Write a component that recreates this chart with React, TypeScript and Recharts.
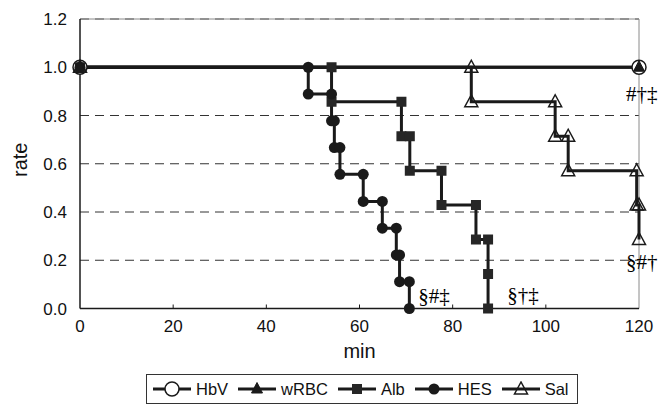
import React from 'react';
import {
  LineChart,
  Line,
  XAxis,
  YAxis,
  CartesianGrid,
  ReferenceLine,
  ReferenceDot,
  Legend,
} from 'recharts';

// ---- data ----
const hbvTime = [0, 120];
const hbvRate = [1, 1];

const wrbcTime = [0, 120];
const wrbcRate = [1, 1];

const albTime = [0, 54, 54, 69, 69, 70.8, 70.8, 77.6, 77.6, 85, 85, 87.6, 87.6, 87.6];
const albRate = [1, 1, 0.857, 0.857, 0.714, 0.714, 0.571, 0.571, 0.429, 0.429, 0.286, 0.286, 0.143, 0];

const hesTime = [0, 49, 49, 54, 54, 54.6, 54.6, 55.8, 55.8, 60.8, 60.8, 64.9, 64.9, 67.9, 67.9, 68.6, 68.6, 70.7, 70.7];
const hesRate = [1, 1, 0.889, 0.889, 0.778, 0.778, 0.667, 0.667, 0.556, 0.556, 0.444, 0.444, 0.333, 0.333, 0.222, 0.222, 0.111, 0.111, 0];

const salTime = [0, 84, 84, 102, 102, 104.8, 104.8, 119.5, 119.5, 120, 120];
const salRate = [1, 1, 0.857, 0.857, 0.714, 0.714, 0.571, 0.571, 0.429, 0.429, 0.286];

const seriesNames = ['HbV', 'wRBC', 'Alb', 'HES', 'Sal'];
const markerKinds = ['openCircle', 'filledTriangle', 'square', 'filledCircle', 'openTriangle'];

const xTicks = [0, 20, 40, 60, 80, 100, 120];
const yTicks = [0, 0.2, 0.4, 0.6, 0.8, 1.0, 1.2];

const noteTexts = ['#†‡', '§#†', '§#‡', '§†‡'];
const noteTimes = [117.2, 117.2, 72.6, 91.7];
const noteRates = [0.889, 0.193, 0.052, 0.056];

const toPoints = (ts: number[], rs: number[]) => ts.map((t, i) => ({ t, r: rs[i] }));

const seriesData = [
  toPoints(hbvTime, hbvRate),
  toPoints(wrbcTime, wrbcRate),
  toPoints(albTime, albRate),
  toPoints(hesTime, hesRate),
  toPoints(salTime, salRate),
];

// ---- styles ----
const INK = '#1a1a1a';
const SANS = '"Liberation Sans", Arial, sans-serif';
const SERIF = '"Liberation Serif", "Times New Roman", serif';

function markerShape(kind: string, cx: number, cy: number, key?: any) {
  switch (kind) {
    case 'openCircle':
      return <circle key={key} cx={cx} cy={cy} r={7} fill="#fff" stroke={INK} strokeWidth={1.5} />;
    case 'filledTriangle':
      return (
        <polygon
          key={key}
          points={`${cx},${cy - 6.5} ${cx - 5.5},${cy + 4} ${cx + 5.5},${cy + 4}`}
          fill={INK}
          stroke={INK}
          strokeWidth={1}
        />
      );
    case 'square':
      return <rect key={key} x={cx - 5} y={cy - 5} width={10} height={10} fill="#262626" />;
    case 'filledCircle':
      return <circle key={key} cx={cx} cy={cy} r={5.5} fill={INK} />;
    case 'openTriangle':
      return (
        <polygon
          key={key}
          points={`${cx},${cy - 7} ${cx - 6.5},${cy + 5} ${cx + 6.5},${cy + 5}`}
          fill="none"
          stroke={INK}
          strokeWidth={1.5}
        />
      );
    default:
      return null;
  }
}

const renderLegend = () => (
  <div
    style={{
      display: 'flex',
      alignItems: 'center',
      border: '1px solid #333',
      height: 30,
      boxSizing: 'border-box',
      padding: '0 4px 0 6px',
      fontFamily: SANS,
      fontSize: 16.5,
      color: '#111',
      background: '#fff',
      whiteSpace: 'nowrap',
    }}
  >
    {seriesNames.map((name, i) => (
      <div key={name} style={{ display: 'flex', alignItems: 'center', marginRight: i < seriesNames.length - 1 ? 10 : 4 }}>
        <svg width={38} height={16} style={{ display: 'block' }}>
          <line x1={0} y1={8} x2={38} y2={8} stroke={INK} strokeWidth={3} />
          {markerShape(markerKinds[i], 19, 8)}
        </svg>
        <span style={{ marginLeft: 5 }}>{name}</span>
      </div>
    ))}
  </div>
);

const XTick = (props: any) => {
  const { x, y, payload } = props;
  const axisY = y - 11;
  return (
    <g>
      {payload.value !== 0 && payload.value !== 120 ? (
        <line x1={x} y1={axisY} x2={x} y2={axisY - 4} stroke={INK} strokeWidth={1} />
      ) : null}
      <text x={x} y={y} dy="0.71em" textAnchor="middle" fontFamily={SANS} fontSize={17} fill="#111">
        {payload.value}
      </text>
    </g>
  );
};

const YLabel = (props: any) => {
  const vb = props.viewBox || { x: 0, y: 19, width: 80, height: 289.5 };
  const cx = vb.x + 27;
  const cy = vb.y + vb.height / 2 - 4;
  return (
    <text x={cx} y={cy} textAnchor="middle" fontFamily={SANS} fontSize={20} fill="#111" transform={`rotate(-90, ${cx}, ${cy})`}>
      rate
    </text>
  );
};

const XLabel = (props: any) => {
  const vb = props.viewBox || { x: 80, y: 308.5, width: 559, height: 30 };
  return (
    <text x={vb.x + vb.width / 2} y={vb.y + 49.5} textAnchor="middle" fontFamily={SANS} fontSize={20} fill="#111">
      min
    </text>
  );
};

export default function App() {
  return (
    <div style={{ position: 'absolute', left: 0, top: 0, background: '#fff' }}>
      <LineChart width={659} height={407} margin={{ top: 19, right: 20, left: 0, bottom: 68.5 }}>
        <CartesianGrid vertical={false} stroke="#333" strokeDasharray="9 6" strokeWidth={1} />
        <ReferenceLine y={1.2} stroke="#8a8a8a" strokeWidth={1} />
        <ReferenceLine x={120} stroke="#8a8a8a" strokeWidth={1} />
        <XAxis
          type="number"
          dataKey="t"
          domain={[0, 120]}
          ticks={xTicks}
          tickSize={0}
          tickMargin={11}
          tick={<XTick />}
          axisLine={{ stroke: INK, strokeWidth: 1.5 }}
          tickLine={false}
          height={30}
          label={<XLabel />}
        />
        <YAxis
          type="number"
          dataKey="r"
          domain={[0, 1.2]}
          ticks={yTicks}
          tickFormatter={(v: number) => v.toFixed(1)}
          tickSize={0}
          tickMargin={13}
          tick={{ fontFamily: SANS, fontSize: 17, fill: '#111' }}
          axisLine={{ stroke: INK, strokeWidth: 1.5 }}
          tickLine={false}
          width={80}
          label={<YLabel />}
        />
        {seriesData.map((data, i) => (
          <Line
            key={seriesNames[i]}
            data={data}
            dataKey="r"
            name={seriesNames[i]}
            type="linear"
            stroke={INK}
            strokeWidth={3}
            isAnimationActive={false}
            dot={(p: any) => markerShape(markerKinds[i], p.cx, p.cy, `${seriesNames[i]}-${p.index}`)}
            activeDot={false}
          />
        ))}
        {noteTexts.map((txt, i) => (
          <ReferenceDot
            key={txt}
            x={noteTimes[i]}
            y={noteRates[i]}
            r={0}
            shape={(p: any) => (
              <text x={p.cx} y={p.cy} dy="0.35em" textAnchor="start" fontFamily={SERIF} fontSize={21} fill="#000" stroke="none">
                {txt}
              </text>
            )}
          />
        ))}
        <Legend
          layout="horizontal"
          verticalAlign="middle"
          align="center"
          content={renderLegend}
          wrapperStyle={{ position: 'absolute', left: 146, top: 374, width: 'auto', height: 'auto', bottom: 'auto' }}
        />
      </LineChart>
    </div>
  );
}
